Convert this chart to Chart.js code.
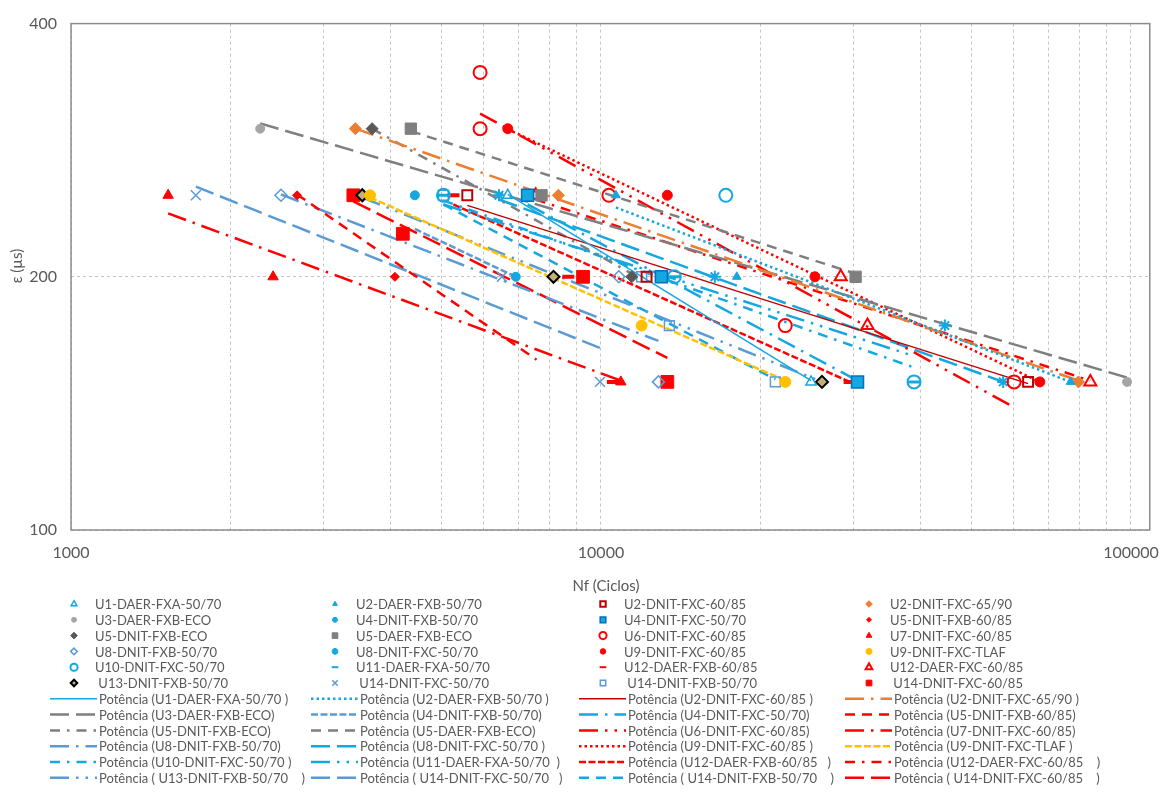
<!DOCTYPE html>
<html lang="pt-BR">
<head>
<meta charset="UTF-8" />
<title>Curvas de fadiga</title>
<script src="https://cdn.jsdelivr.net/npm/chart.js@4/dist/chart.umd.min.js"></script>
<style>
  html, body { margin: 0; padding: 0; background: #fff; }
  #wrap { width: 1172px; height: 794px; position: relative; }
</style>
</head>
<body>
<div id="wrap"><canvas id="grafico"></canvas></div>
<script>
// ---- dados ----
const nomes = [
  "U1-DAER-FXA-50/70", "U2-DAER-FXB-50/70", "U2-DNIT-FXC-60/85", "U2-DNIT-FXC-65/90",
  "U3-DAER-FXB-ECO", "U4-DNIT-FXB-50/70", "U4-DNIT-FXC-50/70", "U5-DNIT-FXB-60/85",
  "U5-DNIT-FXB-ECO", "U5-DAER-FXB-ECO", "U6-DNIT-FXC-60/85", "U7-DNIT-FXC-60/85",
  "U8-DNIT-FXB-50/70", "U8-DNIT-FXC-50/70", "U9-DNIT-FXC-60/85", "U9-DNIT-FXC-TLAF",
  "U10-DNIT-FXC-50/70", "U11-DAER-FXA-50/70", "U12-DAER-FXB-60/85", "U12-DAER-FXC-60/85",
  " U13-DNIT-FXB-50/70", " U14-DNIT-FXC-50/70", " U14-DNIT-FXB-50/70", " U14-DNIT-FXC-60/85"
];
const nomesTendencia = [
  "Potência (U1-DAER-FXA-50/70 )", "Potência (U2-DAER-FXB-50/70 )", "Potência (U2-DNIT-FXC-60/85 )", "Potência (U2-DNIT-FXC-65/90 )",
  "Potência (U3-DAER-FXB-ECO)", "Potência (U4-DNIT-FXB-50/70)", "Potência (U4-DNIT-FXC-50/70)", "Potência (U5-DNIT-FXB-60/85)",
  "Potência (U5-DNIT-FXB-ECO)", "Potência (U5-DAER-FXB-ECO)", "Potência (U6-DNIT-FXC-60/85)", "Potência (U7-DNIT-FXC-60/85)",
  "Potência (U8-DNIT-FXB-50/70)", "Potência (U8-DNIT-FXC-50/70 )", "Potência (U9-DNIT-FXC-60/85 )", "Potência (U9-DNIT-FXC-TLAF )",
  "Potência (U10-DNIT-FXC-50/70 )", "Potência (U11-DAER-FXA-50/70  )", "Potência (U12-DAER-FXB-60/85   )", "Potência (U12-DAER-FXC-60/85    )",
  "Potência ( U13-DNIT-FXB-50/70    )", "Potência ( U14-DNIT-FXC-50/70   )", "Potência ( U14-DNIT-FXB-50/70    )", "Potência ( U14-DNIT-FXC-60/85    )"
];

// Nf (ciclos) e deformacao (µs) dos ensaios
const nfPontos = [
  [6670, 24910], [10670, 18040, 76900], [5594, 12190, 63950], [3440, 8310, 79600],
  [2275, 98300], [4454, 6905], [7270, 13000, 30480], [2670, 4085],
  [3700, 11430], [4377, 7723, 30230], [5914, 5914, 10350, 22270, 60170], [1525, 2406, 10900],
  [2490, 10805, 12835], [6420, 16400, 44550, 57400], [6670, 13340, 25340, 67300], [3667, 11930, 22270],
  [5044, 17200, 13750, 38960], [5044, 13750, 38960], [5266, 8677, 10530, 29460], [7530, 28340, 31830, 83800],
  [3545, 8135, 26120], [1720, 6503, 9957], [5044, 11930, 13460, 21330], [3410, 4228, 9250, 13340]
];
const epsPontos = [
  [250, 150], [250, 200, 150], [250, 200, 150], [300, 250, 150],
  [300, 150], [250, 200], [250, 200, 150], [250, 200],
  [300, 200], [300, 250, 200], [350, 300, 250, 175, 150], [250, 200, 150],
  [250, 200, 150], [250, 200, 175, 150], [300, 250, 200, 150], [250, 175, 150],
  [250, 250, 200, 150], [250, 200, 150], [250, 200, 150, 150], [250, 200, 175, 150],
  [250, 200, 150], [250, 200, 150], [250, 200, 175, 150], [250, 225, 200, 150]
];

// linhas de tendencia (potencia): extremos
const nfTendencia = [
  [6670, 24910], [10670, 76900], [5594, 63950], [3440, 79600],
  [2275, 98300], [4454, 6905], [7270, 30480], [2670, 7557],
  [3700, 11430], [4377, 30230], [5914, 60170], [1525, 10900],
  [2490, 12835], [6420, 57400], [6670, 67300], [3667, 22270],
  [5044, 38960], [5044, 38960], [5266, 29460], [7530, 83800],
  [3545, 26120], [1720, 9957], [5044, 21330], [3410, 13340]
];
const epsTendencia = [
  [250.6, 150.5], [241.8, 150], [243.2, 149.3], [300, 150.5],
  [304.4, 151.8], [228, 200], [243.8, 150.5], [250.6, 159.4],
  [300, 201.7], [298, 201.7], [312.7, 139.9], [237.9, 150.5],
  [250.6, 167.8], [247.1, 150], [299.6, 150], [248.5, 150.5],
  [246.4, 156], [243.8, 161], [243.8, 150], [247.1, 150.5],
  [248.5, 150], [256, 164.6], [243.8, 151], [245.8, 160.2]
];

const marcasX = [1000, 10000, 100000];
const gradeX = [1000, 2000, 3000, 4000, 5000, 6000, 7000, 8000, 9000,
  10000, 20000, 30000, 40000, 50000, 60000, 70000, 80000, 90000, 100000];
const marcasY = [100, 200, 400];

// ---- estilos ----
const ciano = "#14A7E0", aco = "#5B9BD5", verm = "#FF0000", vinho = "#C00000",
  laranja = "#ED7D31", cinza = "#7F7F7F", cinzaClaro = "#A5A5A5", cinzaEsc = "#595959",
  amarelo = "#FFC000", oliva = "#BDB27A", vazio = "rgba(0,0,0,0)";

const formaPonto = ["triangle", "triangle", "rect", "rectRot", "circle", "circle", "rect", "rectRot",
  "rectRot", "rect", "circle", "triangle", "rectRot", "star", "circle", "circle",
  "circle", "line", "line", "triangle", "rectRot", "crossRot", "rect", "rect"];
const fundoPonto = [vazio, ciano, vazio, laranja, cinzaClaro, ciano, ciano, verm,
  cinzaEsc, cinza, vazio, verm, vazio, ciano, verm, amarelo,
  vazio, ciano, verm, vazio, oliva, aco, vazio, verm];
const bordaPonto = [ciano, ciano, vinho, laranja, cinzaClaro, ciano, "#0070C0", verm,
  cinzaEsc, cinza, verm, verm, aco, ciano, verm, amarelo,
  ciano, ciano, verm, verm, "#000000", aco, aco, verm];
const raioPonto = [6, 5, 7, 6, 4.5, 4.5, 8.5, 4.5, 6, 8, 6.5, 6, 6, 6, 5, 5.5,
  6.5, 6, 6, 7, 6, 7, 7, 9];
const larguraBorda = [1.5, 1, 2, 1, 1, 1, 1.5, 1, 1, 1, 2, 1, 1.5, 2, 1, 1,
  2, 3, 4, 2, 2, 1.5, 1.5, 1];

const corLinha = [ciano, ciano, vinho, laranja, cinza, aco, ciano, verm,
  cinza, cinza, verm, verm, aco, ciano, verm, amarelo,
  ciano, ciano, verm, verm, aco, aco, ciano, verm];
const tipoLinha = ["solid", "sysDot", "solid", "lgDashDot", "lgDash", "sysDash", "lgDashDot", "dash",
  "dashDot", "dash", "lgDashDotDot", "lgDashDot", "lgDashDot", "lgDash", "sysDot", "sysDash",
  "dashDot", "lgDashDotDot", "sysDash", "dashDot", "lgDashDotDot", "lgDash", "dash", "lgDash"];
const tracos = {
  solid: [], sysDot: [2.5, 3], sysDash: [7, 2.5], dash: [10, 7], lgDash: [19, 7],
  dashDot: [10, 7, 2.5, 7], lgDashDot: [19, 7, 2.5, 7], lgDashDotDot: [19, 7, 2.5, 7, 2.5, 7]
};

// ---- datasets ----
const datasets = [];
nomes.forEach(function (nome, i) {
  datasets.push({
    label: nome,
    data: nfPontos[i].map(function (n, k) { return { x: n, y: epsPontos[i][k] }; }),
    pointStyle: formaPonto[i],
    pointRadius: raioPonto[i],
    pointBackgroundColor: fundoPonto[i],
    pointBorderColor: bordaPonto[i],
    pointBorderWidth: larguraBorda[i],
    showLine: false,
    order: 0
  });
});
nomesTendencia.forEach(function (nome, i) {
  datasets.push({
    label: nome,
    data: nfTendencia[i].map(function (n, k) { return { x: n, y: epsTendencia[i][k] }; }),
    showLine: true,
    pointRadius: 0,
    borderColor: corLinha[i],
    borderWidth: tipoLinha[i] === "solid" ? 1.5 : 2.5,
    borderDash: tracos[tipoLinha[i]],
    fill: false,
    order: 1
  });
});

const fonte = "Lato, 'Open Sans', sans-serif";
const corTexto = "#595959";

// legenda no estilo do Excel + titulos + moldura
const legendaExcel = {
  id: "legendaExcel",
  afterDraw(chart) {
    const ctx = chart.ctx;
    const a = chart.chartArea;
    ctx.save();
    ctx.strokeStyle = "#8C8C8C";
    ctx.lineWidth = 1.5;
    ctx.setLineDash([]);
    ctx.strokeRect(a.left, a.top, a.right - a.left, a.bottom - a.top);

    ctx.fillStyle = corTexto;
    ctx.font = "15px " + fonte;
    ctx.textAlign = "center";
    ctx.textBaseline = "middle";
    ctx.fillText("Nf (Ciclos)", 606, 586);
    ctx.save();
    ctx.translate(17, 266);
    ctx.rotate(-Math.PI / 2);
    ctx.fillText("ε (µs)", 0, 0);
    ctx.restore();

    const colX = [50, 311, 579, 845];
    const y0 = 604, passo = 15.8;
    ctx.font = "13px " + fonte;
    ctx.textAlign = "left";
    nomes.forEach(function (nome, i) {
      const cx = colX[i % 4];
      const cy = y0 + Math.floor(i / 4) * passo;
      ctx.fillStyle = fundoPonto[i];
      ctx.strokeStyle = bordaPonto[i];
      ctx.lineWidth = Math.min(larguraBorda[i], 2);
      Chart.helpers.drawPoint(ctx, {
        pointStyle: formaPonto[i], rotation: 0,
        radius: Math.min(raioPonto[i] * 0.55, 4), borderWidth: larguraBorda[i]
      }, cx + 24, cy);
      ctx.fillStyle = corTexto;
      ctx.fillText(nome, cx + 45, cy + 1);
    });
    nomesTendencia.forEach(function (nome, i) {
      const cx = colX[i % 4];
      const cy = y0 + (6 + Math.floor(i / 4)) * passo;
      ctx.beginPath();
      ctx.strokeStyle = corLinha[i];
      ctx.lineWidth = tipoLinha[i] === "solid" ? 1.5 : 2.5;
      ctx.setLineDash(tracos[tipoLinha[i]]);
      ctx.moveTo(cx, cy);
      ctx.lineTo(cx + 47, cy);
      ctx.stroke();
      ctx.setLineDash([]);
      ctx.fillStyle = corTexto;
      ctx.fillText(nome, cx + 49, cy + 1);
    });
    ctx.restore();
  }
};

new Chart(document.getElementById("grafico"), {
  type: "scatter",
  data: { datasets: datasets },
  options: {
    responsive: true,
    maintainAspectRatio: false,
    animation: false,
    layout: { padding: { left: 2, top: 12, right: 10, bottom: 229 } },
    plugins: { legend: { display: false }, tooltip: { enabled: false } },
    scales: {
      x: {
        type: "logarithmic",
        min: 1000,
        max: 108500,
        afterBuildTicks: function (s) { s.ticks = gradeX.map(function (v) { return { value: v }; }); },
        afterFit: function (s) { s.height = 35; },
        ticks: {
          autoSkip: false, maxRotation: 0, padding: 13,
          color: corTexto, font: { family: fonte, size: 16 },
          callback: function (v) { return marcasX.includes(v) ? String(v) : ""; }
        },
        grid: { color: "#C4C4C4", lineWidth: 1, drawTicks: false },
        border: { display: false, dash: [3, 3] }
      },
      y: {
        type: "logarithmic",
        min: 100,
        max: 400,
        afterBuildTicks: function (s) { s.ticks = marcasY.map(function (v) { return { value: v }; }); },
        afterFit: function (s) { s.width = 69; },
        ticks: {
          padding: 14, color: corTexto, font: { family: fonte, size: 16 },
          callback: function (v) { return String(v); }
        },
        grid: { color: "#C4C4C4", lineWidth: 1, drawTicks: false },
        border: { display: false, dash: [3, 3] }
      }
    }
  },
  plugins: [legendaExcel]
});
</script>
</body>
</html>
